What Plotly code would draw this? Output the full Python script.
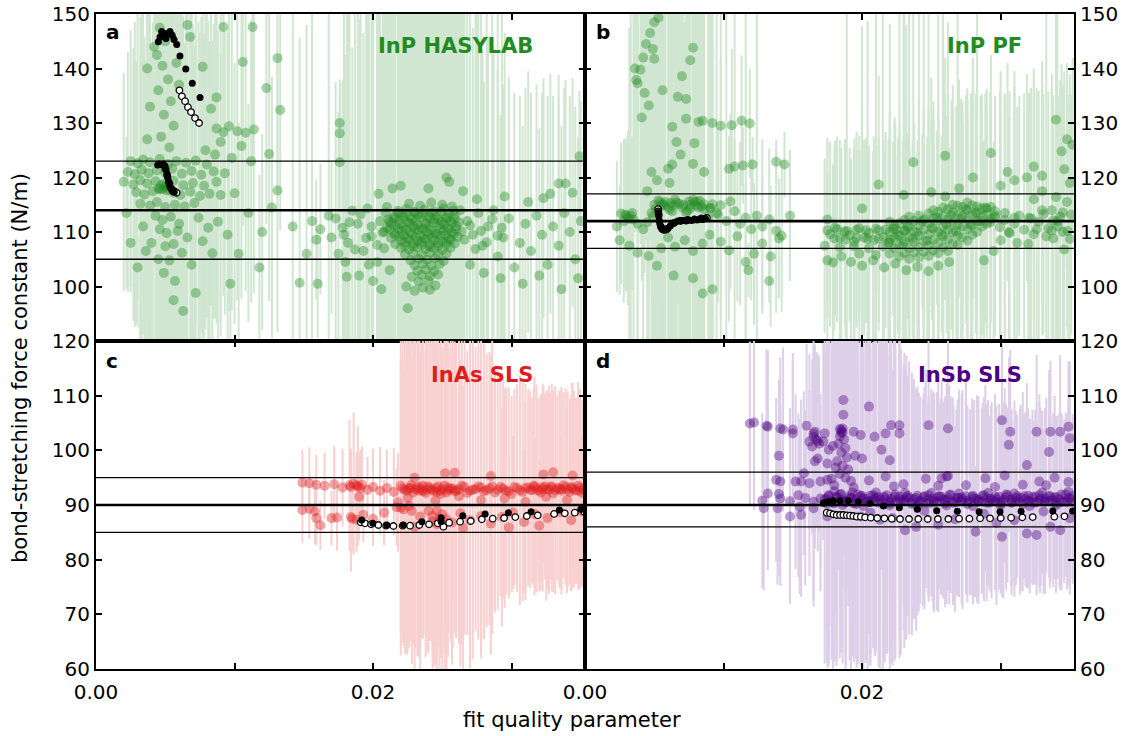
import plotly.graph_objects as go

# ---------------------------------------------------------------------------
# Individual fits: fit quality (in units of 1e-3), bond-stretching force
# constant k (N/m) and the half-width of its uncertainty (N/m).
# ---------------------------------------------------------------------------

# (a) InP, HASYLAB
a_q = [
    2.5, 3.0, 3.4, 3.9, 4.6, 5.2, 5.8, 6.5, 7.2, 8.0,
    2.3, 2.8, 3.3, 3.8, 4.4, 5.0, 5.5, 6.2, 6.9, 7.6, 8.5, 9.3,
    2.0, 2.7, 3.2, 3.7, 4.3, 4.9, 5.6, 6.3, 7.0, 7.8, 8.7,
    2.9, 3.5, 4.1, 4.6, 5.1, 5.6, 6.1, 6.8, 7.5, 8.2, 9.0, 10.0,
    4.5, 4.8, 5.0, 5.3, 4.7, 5.2,
    3.2, 3.9, 4.4, 5.0, 5.7, 6.4, 7.1,
    4.3, 4.8, 5.4, 6.0, 4.6, 5.1, 5.9, 6.6, 4.0, 5.0, 5.6, 6.2, 4.5, 5.3, 3.6, 6.9, 4.9, 5.7,
    7.4, 8.1, 7.7, 8.8, 9.5, 8.4,
    4.6, 5.0, 4.4, 4.8, 5.2, 4.5, 5.4, 4.9, 5.6, 4.7, 5.3, 4.2, 5.8, 3.9, 6.0, 3.7,
    3.7, 6.6, 7.7, 6.8, 9.2, 11.3, 10.6, 13.1, 12.3, 8.7,
    8.7, 9.2, 9.6, 10.2, 10.8, 11.4, 9.0, 10.5,
    8.6, 9.8, 11.2, 12.5, 7.9,
    8.3, 13.3, 13.1, 12.7, 11.0, 12.0, 10.3, 11.8, 9.7, 3.0, 2.5, 3.4, 2.2, 7.2, 5.6, 6.3,
    15.6, 16.2, 16.8, 17.0, 15.9, 14.7, 16.0, 14.2, 15.2,
    22.6, 23.4, 24.2, 25.0, 25.7,
    21.8, 22.4, 23.0, 23.7, 24.4, 25.1, 25.8, 26.3,
    21.5, 22.1, 22.7, 23.3, 24.0, 24.6, 25.3, 25.9,
    21.2, 21.9, 22.5, 23.1, 23.8, 24.4, 25.0, 25.6, 26.2,
    21.0, 21.6, 22.2, 22.9, 23.5, 24.1, 24.8, 25.4, 26.0,
    20.8, 21.5, 22.1, 22.7, 23.3, 23.9, 24.5, 25.1, 25.7, 26.4,
    21.3, 21.9, 22.5, 23.1, 23.7, 24.3, 24.9, 25.5, 26.1,
    21.6, 22.3, 22.9, 23.5, 24.1, 24.7, 25.3, 25.9,
    22.0, 22.6, 23.2, 23.8, 24.4, 25.0, 25.6,
    22.3, 22.9, 23.5, 24.1, 24.7, 25.3,
    22.7, 23.3, 23.9, 24.5, 25.1,
    23.0, 23.6, 24.2, 24.8, 23.2, 23.8, 24.4, 22.8, 23.5, 24.1, 24.7, 23.3, 24.0, 22.4, 23.6, 24.5, 23.0, 24.1,
    21.8, 22.4, 23.0, 23.6, 24.2, 24.9, 25.5,
    21.5, 22.2, 22.8, 23.4, 24.1, 24.7, 25.3, 25.9,
    21.3, 21.9, 22.6, 23.2, 23.8, 24.4, 25.1, 25.7,
    21.2, 21.8, 22.4, 23.0, 23.6, 24.2, 24.8, 25.4, 26.0,
    21.6, 22.2, 22.8, 23.4, 24.0, 24.6, 25.2, 25.8,
    22.0, 22.6, 23.2, 23.8, 24.4, 25.0, 25.6,
    22.3, 22.9, 23.5, 24.1, 24.7, 25.3,
    17.3, 17.8, 18.2, 18.5, 18.9, 19.3, 19.6, 19.9, 20.3, 20.5, 20.8, 21.0, 18.0, 19.0, 20.0, 17.5, 21.2, 20.6,
    17.6, 17.6, 17.6, 20.4, 21.4, 22.0, 24.0, 25.5, 26.5, 25.3,
    26.8, 27.2, 27.6, 27.9, 28.3, 28.7, 29.0, 29.4, 29.8, 30.2, 30.6, 31.0, 31.4, 31.8, 32.2, 32.6, 33.0, 33.4, 33.8, 34.2, 34.6, 35.0,
    27.0, 28.0, 29.2, 30.8, 32.0, 33.6, 34.8, 27.5, 29.5, 31.2, 32.8, 34.4,
    32.3, 33.4, 33.9, 34.9, 22.5,
    17.9, 18.3, 18.7, 19.1, 19.5, 19.9, 20.3, 20.7, 21.1,
    26.6, 27.0, 27.4, 27.8, 28.2, 28.6, 29.0, 29.3, 18.1, 19.7, 20.9,
]
a_k = [
    123.0, 122.6, 123.3, 122.8, 123.4, 122.5, 123.0, 122.7, 123.1, 122.4,
    121.0, 120.6, 121.4, 120.8, 121.3, 120.9, 121.6, 120.7, 121.2, 120.5, 121.1, 120.8,
    119.2, 118.7, 119.5, 118.9, 119.3, 118.8, 119.4, 118.6, 119.0, 118.5, 119.2,
    117.3, 116.9, 117.5, 117.8, 117.6, 117.2, 116.8, 117.4, 116.6, 117.0, 116.8, 117.1,
    118.0, 117.9, 118.3, 117.7, 118.6, 118.4,
    115.2, 114.8, 115.5, 114.6, 115.0, 114.7, 115.3,
    113.0, 112.2, 112.8, 111.5, 110.5, 109.8, 110.2, 109.0, 108.0, 107.4, 107.8, 106.2, 105.0, 104.8, 106.5, 104.0, 102.5, 101.0,
    112.6, 110.8, 108.3, 111.9, 109.5, 106.1,
    147.5, 145.0, 142.5, 140.5, 138.0, 136.0, 134.0, 131.5, 129.5, 127.5, 125.5, 144.0, 141.0, 133.0, 137.0, 127.0,
    140.0, 148.0, 140.3, 145.8, 147.6, 147.6, 141.2, 141.9, 136.4, 134.7,
    129.0, 128.3, 129.4, 128.5, 128.2, 128.8, 126.5, 125.8,
    124.2, 123.6, 123.0, 124.3, 125.0,
    132.6, 132.4, 117.6, 114.5, 113.5, 110.0, 106.0, 103.5, 100.5, 103.5, 108.0, 111.0, 113.5, 98.8, 97.5, 95.5,
    112.0, 110.5, 113.0, 109.0, 108.6, 100.7, 100.5, 111.0, 106.0,
    115.2, 114.8, 115.4, 115.0, 114.7,
    113.9, 114.2, 113.7, 114.1, 113.8, 114.3, 113.9, 114.0,
    112.8, 113.1, 112.7, 113.2, 112.9, 113.0, 112.6, 113.2,
    111.9, 112.2, 111.8, 112.1, 111.7, 112.3, 111.9, 112.0, 111.8,
    110.8, 111.2, 110.9, 111.1, 110.7, 111.0, 111.3, 110.8, 111.1,
    110.1, 109.8, 110.2, 109.9, 110.3, 110.0, 109.7, 110.2, 109.9, 110.1,
    108.9, 109.2, 108.8, 109.1, 108.7, 109.0, 109.3, 108.8, 109.1,
    107.8, 108.1, 107.9, 108.2, 107.7, 108.0, 108.2, 107.9,
    107.1, 106.8, 107.2, 106.9, 107.0, 106.7, 107.1,
    105.9, 106.1, 105.8, 106.2, 105.9, 106.0,
    104.8, 105.1, 104.9, 105.2, 104.7,
    103.9, 104.2, 103.8, 104.1, 102.9, 103.1, 102.8, 101.8, 102.1, 101.9, 102.2, 100.9, 101.1, 100.0, 99.8, 100.2, 99.2, 99.4,
    113.5, 113.4, 113.6, 113.3, 113.5, 113.7, 113.4,
    112.5, 112.6, 112.4, 112.7, 112.5, 112.3, 112.6, 112.4,
    111.5, 111.4, 111.6, 111.3, 111.5, 111.7, 111.4, 111.6,
    110.5, 110.6, 110.4, 110.7, 110.5, 110.3, 110.6, 110.4, 110.5,
    109.5, 109.4, 109.6, 109.3, 109.5, 109.7, 109.4, 109.6,
    108.5, 108.6, 108.4, 108.7, 108.5, 108.3, 108.6,
    107.5, 107.4, 107.6, 107.3, 107.5, 107.7,
    112.5, 110.8, 108.0, 113.9, 111.5, 106.5, 114.3, 109.2, 104.5, 112.0, 107.0, 114.6, 104.5, 102.0, 101.0, 106.0, 103.0, 99.5,
    130.0, 128.1, 122.8, 117.0, 118.0, 118.5, 118.0, 119.2, 117.5, 120.0,
    112.0, 109.5, 113.5, 107.5, 111.0, 114.0, 105.5, 109.0, 112.5, 103.5, 108.0, 111.5, 106.5, 113.0, 109.5, 104.0, 111.0, 107.5, 113.5, 110.0, 105.0, 112.0,
    104.0, 102.5, 101.5, 100.5, 102.0, 99.5, 101.5, 116.0, 116.5, 115.5, 117.0, 117.2,
    116.2, 118.9, 118.9, 123.9, 96.0,
    109.5, 111.8, 106.8, 113.2, 108.9, 111.0, 107.6, 109.9, 112.3,
    108.6, 111.2, 106.9, 110.2, 108.1, 112.4, 109.3, 110.8, 101.8, 104.0, 113.6,
]
a_err = [
    24, 30, 32, 34, 36, 35, 33, 34, 30, 28,
    22, 28, 31, 33, 35, 34, 36, 32, 30, 29, 27, 26,
    20, 25, 30, 32, 34, 33, 35, 31, 29, 28, 26,
    24, 29, 31, 33, 34, 32, 33, 31, 30, 28, 26, 24,
    30, 31, 29, 32, 30, 31,
    27, 30, 33, 31, 32, 30, 29,
    38, 40, 42, 39, 41, 43, 40, 42, 36, 44, 41, 43, 45, 46, 35, 47, 48, 50,
    36, 38, 40, 35, 37, 39,
    30, 28, 32, 35, 38, 36, 40, 42, 44, 41, 39, 33, 36, 34, 37, 32,
    30, 28, 32, 29, 26, 24, 30, 24, 25, 35,
    32, 30, 34, 31, 29, 30, 33, 28,
    30, 28, 26, 27, 33,
    36, 22, 26, 24, 20, 18, 24, 17, 16, 6, 8, 12, 14, 46, 50, 48,
    40, 12, 42, 14, 11, 45, 10, 44, 42,
    42, 45, 40, 44, 41,
    44, 40, 46, 42, 48, 41, 45, 43,
    45, 47, 41, 49, 43, 46, 42, 44,
    46, 42, 48, 44, 50, 43, 47, 45, 41,
    47, 44, 50, 46, 42, 49, 45, 43, 48,
    45, 48, 43, 51, 46, 44, 50, 47, 42, 40,
    48, 45, 52, 44, 49, 46, 51, 43, 47,
    50, 46, 53, 48, 44, 51, 47, 45,
    49, 52, 46, 54, 48, 50, 45,
    52, 48, 55, 50, 47, 53,
    54, 50, 56, 49, 52,
    55, 51, 57, 53, 56, 52, 58, 54, 57, 55, 50, 58, 56, 57, 60, 55, 58, 56,
    43, 47, 41, 45, 49, 44, 42,
    46, 43, 48, 44, 50, 45, 41, 47,
    44, 49, 42, 46, 51, 43, 48, 45,
    47, 42, 50, 44, 46, 52, 43, 48, 41,
    49, 45, 51, 43, 47, 53, 44, 46,
    50, 46, 52, 44, 48, 54, 45,
    51, 47, 53, 49, 46, 52,
    25, 27, 42, 30, 45, 40, 44, 46, 48, 43, 41, 45, 38, 47, 50, 26, 44, 46,
    8, 9, 12, 40, 42, 38, 45, 40, 36, 42,
    40, 38, 42, 36, 35, 30, 34, 28, 26, 32, 27, 25, 29, 24, 26, 31, 24, 27, 23, 25, 28, 22,
    38, 35, 30, 29, 27, 30, 26, 36, 30, 24, 22, 21,
    22, 20, 19, 12, 45,
    44, 46, 48, 43, 47, 45, 49, 46, 44,
    45, 43, 47, 44, 46, 41, 45, 42, 50, 48, 42,
]

# (b) InP, PF
b_q = [
    2.3, 2.6, 2.9, 3.1, 3.3, 3.5, 2.8, 3.8, 4.2, 4.5,
    4.8, 5.0, 5.3, 5.5, 5.8, 6.0, 6.3, 6.5, 6.8, 7.0,
    7.3, 7.5, 7.8, 8.0, 8.3, 8.6, 8.9, 9.2, 9.5, 9.8,
    10.2, 10.5, 10.8, 11.2, 11.6, 12.0, 12.4, 12.8, 13.3, 13.8,
    14.2, 14.8,
    5.4, 5.7, 6.2, 7.6, 7.9, 8.2, 9.0, 3.0, 3.2,
    5.1, 5.6, 6.1, 6.6, 7.1, 7.6, 8.1, 8.6, 9.1, 9.6, 4.9, 6.4, 7.4, 8.4, 3.4,
    2.5, 3.2, 3.8, 4.6, 5.2, 5.5, 6.0, 6.5, 7.2, 7.8,
    8.5, 9.0, 9.8, 10.4, 11.0, 11.6, 12.2, 12.8, 13.4, 14.0,
    13.3, 9.2, 7.8, 8.5, 6.4, 11.8,
    3.6, 3.7, 3.8, 4.0, 4.2, 4.4, 4.7, 5.0, 5.3, 4.3, 4.6, 4.1, 5.0, 4.9,
    5.6, 7.0, 7.6, 7.8, 7.3, 6.7, 6.3, 7.3, 8.2, 8.5,
    9.2, 9.8, 10.6, 11.3, 11.9, 6.6, 7.9, 6.9, 7.8, 6.3,
    6.0, 8.6, 10.4, 10.8, 11.4, 12.1, 13.8, 14.4, 4.8, 5.2,
    4.5, 6.1,
    17.5, 18.2, 18.9, 19.6, 20.3, 21.0, 21.7, 22.4, 23.1,
    18.0, 18.8, 19.6, 20.4, 21.2, 22.0,
    17.3, 18.4, 19.4, 20.5, 21.5,
    18.5, 19.2, 20.0, 20.8, 21.6, 22.4, 23.2, 24.0, 24.8, 25.5, 26.3, 19.8, 21.0, 17.9,
    22.0, 22.0, 22.0, 22.0, 22.7, 22.7, 22.7, 22.7,
    23.4, 23.4, 23.4, 23.4, 23.4, 24.1, 24.1, 24.1, 24.1, 24.1,
    24.8, 24.8, 24.8, 24.8, 24.8, 25.5, 25.5, 25.5, 25.5, 25.5,
    26.2, 26.2, 26.2, 26.2, 26.2, 26.9, 26.9, 26.9, 26.9, 26.9,
    27.6, 27.6, 27.6, 27.6, 27.6, 28.3, 28.3, 28.3, 28.3,
    29.0, 29.0, 29.0, 29.6, 29.6,
    22.35, 22.35, 22.35, 23.05, 23.05, 23.05, 23.05, 23.75, 23.75, 23.75, 23.75,
    24.45, 24.45, 24.45, 24.45, 25.15, 25.15, 25.15, 25.15, 25.15,
    25.85, 25.85, 25.85, 25.85, 25.85, 26.55, 26.55, 26.55, 26.55, 26.55,
    27.25, 27.25, 27.25, 27.25, 27.95, 27.95, 27.95, 27.95,
    28.65, 28.65, 28.65, 29.3, 29.3,
    30.3, 31.0, 30.6, 30.0, 31.2, 29.5, 28.8,
    32.2, 32.6, 33.0, 33.3, 33.7, 33.7, 33.8, 34.1, 34.3, 34.5, 34.8, 35.0, 32.4, 33.0, 34.0, 32.0, 34.6, 35.1,
    28.0, 27.0, 26.0, 25.0, 23.0, 21.2, 20.0, 29.3, 30.5, 31.9, 32.4, 33.0, 34.4, 34.6, 35.0, 34.8, 34.0, 35.2, 23.7, 26.0, 31.0, 30.0,
    17.5, 17.5,
    17.7, 18.05, 18.4, 18.75, 19.1, 19.45, 19.8, 20.15, 20.5, 20.85,
    21.2, 21.55, 21.9, 22.25, 22.6, 22.95, 23.3, 23.65, 24.0, 24.35,
    24.7, 25.05, 25.4, 25.75, 26.1, 26.45, 26.8, 27.15, 27.5, 27.85,
    28.2, 28.55, 28.9, 29.25, 29.6, 29.95, 30.3, 30.65, 31.0, 31.35,
    31.7, 32.05, 32.4, 32.75, 33.1, 33.45, 33.8, 34.15, 34.5, 34.85,
]
b_k = [
    111.0, 113.4, 113.2, 112.6, 113.0, 112.3, 112.0, 111.5, 110.5, 111.8,
    113.5, 115.0, 115.8, 114.8, 115.5, 114.6, 113.8, 115.9, 115.2, 114.5,
    113.6, 115.6, 115.9, 114.9, 115.7, 114.2, 112.8, 115.1, 113.5, 114.9,
    112.0, 115.6, 113.8, 111.5, 112.6, 110.5, 113.0, 111.0, 112.3, 110.2,
    109.3, 113.0,
    115.5, 114.9, 115.3, 115.0, 115.5, 114.5, 114.3, 113.0, 112.4,
    114.2, 115.2, 114.1, 115.4, 115.0, 114.3, 115.6, 115.1, 114.4, 113.2, 112.8, 114.9, 113.9, 114.7, 113.5,
    108.5, 107.5, 106.2, 105.6, 103.8, 107.0, 109.0, 107.3, 108.5, 106.5,
    107.9, 109.5, 108.2, 106.6, 109.2, 104.5, 106.0, 107.9, 105.5, 108.8,
    101.0, 99.5, 101.5, 98.7, 102.0, 103.0,
    140.0, 137.9, 137.3, 139.8, 142.0, 144.5, 146.5, 148.5, 149.3, 135.5, 133.2, 131.0, 141.8, 143.6,
    136.0, 138.6, 141.5, 143.8, 134.4, 134.8, 129.3, 130.8, 130.2, 130.4,
    130.0, 129.5, 129.6, 130.4, 129.9, 126.5, 126.3, 124.2, 122.5, 122.4,
    121.6, 121.0, 121.6, 122.0, 122.2, 122.4, 122.9, 122.4, 121.0, 119.5,
    117.5, 119.0,
    110.3, 110.5, 110.2, 110.4, 110.3, 110.6, 110.4, 110.5, 110.3,
    108.8, 108.6, 108.9, 108.7, 108.8, 108.6,
    107.5, 107.2, 107.4, 107.0, 107.3,
    105.5, 104.5, 103.8, 104.8, 103.5, 104.2, 103.0, 103.6, 102.8, 103.8, 104.5, 106.0, 105.8, 104.4,
    106.0, 108.1, 110.0, 111.9, 105.5, 107.6, 109.4, 111.6,
    105.1, 107.0, 109.1, 110.9, 112.8, 105.3, 107.2, 109.3, 111.2, 113.0,
    105.6, 107.5, 109.6, 111.6, 113.4, 106.1, 108.0, 110.0, 112.1, 113.7,
    106.5, 108.6, 110.4, 112.3, 114.2, 107.6, 109.4, 111.3, 113.1, 114.8,
    108.4, 110.5, 112.3, 114.0, 115.4, 110.0, 112.0, 113.6, 114.7,
    111.5, 113.2, 114.3, 112.7, 113.8,
    107.0, 109.0, 111.0, 106.2, 108.3, 110.2, 112.2, 106.3, 108.2, 110.1, 112.0,
    106.4, 108.3, 110.4, 112.3, 106.6, 108.6, 110.6, 112.5, 114.0,
    107.2, 109.2, 111.0, 112.9, 114.5, 107.9, 109.9, 111.8, 113.6, 115.0,
    109.0, 111.0, 112.9, 114.6, 109.5, 111.3, 113.1, 114.9,
    111.0, 112.8, 114.3, 112.4, 114.6,
    113.5, 112.6, 110.0, 108.5, 108.0, 106.5, 104.8,
    112.5, 110.5, 114.0, 109.2, 114.0, 110.3, 108.8, 112.0, 112.8, 110.0, 115.5, 108.7, 116.0, 117.5, 116.4, 107.8, 106.8, 113.2,
    120.0, 118.0, 116.5, 117.3, 116.8, 118.7, 114.3, 124.5, 121.0, 120.0, 122.0, 120.3, 124.8, 121.5, 119.0, 127.0, 130.6, 126.0, 122.8, 124.0, 119.5, 118.5,
    104.8, 112.3,
    109.6, 110.8, 108.9, 110.1, 109.4, 108.2, 110.7, 109.0, 109.8, 108.5,
    110.3, 109.1, 108.0, 110.6, 109.3, 107.8, 111.0, 108.7, 109.9, 112.0,
    108.4, 110.8, 112.6, 109.5, 111.4, 113.1, 110.2, 112.5, 114.1, 111.3,
    113.4, 112.0, 114.5, 111.8, 113.0, 110.9, 112.2, 109.8, 111.5, 113.0,
    110.4, 112.6, 109.6, 111.9, 113.3, 110.7, 112.1, 111.0, 113.6, 110.2,
]
b_err = [
    12, 13, 14, 16, 40, 38, 15, 42, 40, 41,
    44, 38, 36, 40, 39, 42, 41, 37, 40, 38,
    41, 36, 39, 40, 37, 41, 42, 38, 40, 39,
    40, 16, 42, 15, 38, 13, 40, 16, 13, 15,
    14, 12,
    38, 40, 39, 41, 37, 40, 42, 14, 13,
    40, 38, 41, 39, 42, 37, 40, 38, 41, 16, 39, 40, 38, 41, 14,
    10, 40, 42, 44, 46, 43, 41, 42, 40, 44,
    42, 40, 14, 13, 12, 14, 13, 12, 13, 11,
    4, 45, 48, 47, 46, 5,
    30, 28, 29, 32, 34, 36, 38, 40, 42, 33, 35, 30, 36, 38,
    40, 38, 36, 42, 40, 38, 35, 44, 40, 38,
    42, 12, 14, 12, 10, 40, 38, 41, 45, 42,
    39, 44, 6, 5, 7, 5, 4, 6, 20, 22,
    18, 40,
    16, 17, 40, 18, 17, 42, 18, 19, 17,
    17, 18, 16, 40, 17, 18,
    16, 17, 18, 17, 44,
    20, 19, 44, 20, 21, 20, 45, 21, 20, 46, 21, 19, 20, 18,
    18, 40, 19, 20, 19, 21, 42, 18,
    20, 18, 19, 44, 21, 19, 20, 43, 18, 21,
    20, 19, 18, 21, 45, 18, 20, 21, 19, 20,
    42, 19, 20, 18, 21, 20, 21, 19, 44, 18,
    19, 20, 22, 18, 21, 20, 19, 46, 21,
    21, 20, 22, 20, 19,
    19, 21, 20, 20, 18, 44, 21, 21, 19, 20, 18,
    18, 43, 21, 20, 20, 19, 21, 18, 20,
    19, 21, 20, 45, 18, 21, 18, 20, 19, 22,
    20, 19, 21, 18, 19, 22, 20, 21,
    20, 18, 21, 19, 20,
    22, 24, 21, 23, 25, 20, 22,
    24, 26, 23, 45, 25, 26, 24, 42, 25, 27, 23, 26, 22, 21, 40, 25, 24, 22,
    22, 20, 19, 21, 42, 20, 19, 18, 20, 19, 18, 21, 16, 18, 20, 14, 12, 16, 40, 18, 20, 21,
    16, 15,
    17, 16, 18, 17, 16, 19, 17, 18, 16, 19,
    17, 18, 19, 16, 18, 19, 17, 18, 17, 16,
    19, 17, 16, 18, 20, 21, 23, 22, 21, 24,
    22, 23, 21, 24, 22, 25, 23, 26, 24, 22,
    25, 23, 26, 24, 22, 25, 23, 24, 22, 25,
]

# (c) InAs, SLS
c_q = [
    14.9, 15.4, 15.9, 16.5, 17.2, 14.9, 15.4, 15.8, 15.9, 16.2, 17.0, 17.4,
    17.8, 18.3, 18.6, 18.9, 19.2, 19.6, 20.0, 20.5, 21.0, 21.5,
    22.0, 22.3, 22.6, 22.9, 23.2, 23.5, 23.8, 24.1, 24.4, 24.7,
    25.0, 25.3, 25.6, 26.0, 26.4, 26.8, 27.2, 27.6, 28.0, 28.4,
    28.8, 29.2, 29.6, 30.0, 30.4, 30.8, 31.2, 31.5, 31.8, 32.1,
    32.4, 32.7, 33.0, 33.3, 33.6, 33.9, 34.2, 34.5, 34.8, 35.1,
    19.0, 21.8, 22.5, 24.5, 26.2, 27.8, 29.5, 31.0, 32.5, 34.0,
    25.2, 25.9, 32.3, 33.0, 34.4, 28.5, 23.0,
    18.4, 18.8, 19.3, 20.0, 20.8, 21.7, 22.2, 22.8, 23.4, 24.0,
    24.3, 24.6, 25.0, 25.3, 25.7, 26.3, 27.0, 27.8, 28.5, 29.3,
    30.1, 30.9, 31.7, 32.6, 33.5, 34.3, 35.0, 23.0, 26.5, 29.8, 32.0,
    18.4, 18.8, 19.1, 22.7, 23.3, 23.9, 24.6, 25.4, 25.9, 23.6,
    24.9, 31.6, 32.2, 32.9, 33.6, 34.3, 34.9, 24.3, 24.8, 25.2,
    24.6, 18.5, 22.0, 22.6,
    22.15, 22.45, 22.75, 23.05, 23.35, 23.65, 23.95, 24.25, 24.55, 24.85,
    25.15, 25.45, 25.75, 26.2, 26.6, 27.0, 27.4, 27.8, 28.2, 28.6,
    29.0, 29.4, 29.8, 30.2, 30.6, 31.0, 31.35, 31.65, 31.95, 32.25,
    32.55, 32.85, 33.15, 33.45, 33.75, 34.05, 34.35, 34.65, 34.95, 35.2,
]
c_k = [
    94.1, 94.0, 93.7, 93.5, 93.8, 89.1, 89.3, 88.8, 87.6, 86.3, 87.6, 87.7,
    93.2, 93.6, 93.9, 93.4, 93.7, 92.8, 93.3, 92.6, 93.1, 92.4,
    93.5, 92.8, 93.0, 92.3, 93.3, 92.7, 92.2, 93.1, 92.5, 93.4,
    92.9, 92.3, 93.0, 92.6, 93.5, 92.2, 92.8, 93.4, 92.5, 93.0,
    92.3, 93.3, 92.6, 92.0, 93.1, 92.4, 93.2, 92.7, 93.0, 92.3,
    93.4, 92.8, 92.1, 93.1, 92.6, 93.3, 92.4, 92.9, 93.5, 92.2,
    91.5, 90.5, 91.3, 90.8, 91.6, 90.9, 91.2, 90.6, 91.5, 90.9,
    95.8, 95.9, 95.6, 96.0, 95.4, 95.3, 95.0,
    87.8, 87.3, 88.2, 87.5, 88.6, 89.6, 89.2, 88.9, 87.9, 88.9,
    87.0, 86.5, 88.3, 87.4, 86.8, 88.5, 87.2, 88.0, 86.6, 87.8,
    88.6, 86.9, 88.3, 87.6, 88.7, 87.2, 88.9, 86.0, 85.8, 85.9, 86.2,
    93.3, 93.6, 93.1, 93.1, 92.6, 92.9, 92.4, 93.2, 92.5, 93.5,
    92.0, 93.4, 92.9, 93.2, 92.9, 93.1, 92.6, 88.0, 87.5, 86.8,
    89.0, 87.5, 89.5, 89.8,
    93.0, 92.6, 93.6, 92.9, 93.2, 92.5, 93.4, 92.8, 93.1, 92.6,
    93.5, 92.7, 93.0, 92.9, 93.3, 92.6, 92.9, 93.2, 92.7, 93.4,
    92.8, 93.0, 92.5, 93.3, 92.7, 93.1, 92.8, 93.5, 92.6, 93.2,
    92.9, 93.4, 92.7, 93.0, 93.6, 92.8, 93.3, 92.6, 93.2, 92.9,
]
c_err = [
    6, 6.5, 5.5, 6, 7, 6, 5.5, 6, 5, 4.5, 5, 6,
    7, 12, 13, 11, 7, 6, 7, 8, 7, 8,
    27, 30, 29, 28, 31, 27, 30, 28, 32, 29,
    26, 30, 28, 27, 29, 26, 31, 28, 27, 25,
    22, 20, 19, 18, 19, 20, 18, 17, 19, 18,
    17, 19, 18, 17, 19, 18, 17, 18, 19, 17,
    8, 9, 28, 30, 27, 29, 20, 18, 19, 17,
    25, 24, 16, 15, 17, 22, 26,
    10, 6, 5, 5, 6, 7, 25, 28, 30, 26,
    28, 27, 29, 31, 26, 28, 27, 25, 24, 20,
    14, 13, 14, 13, 14, 13, 14, 27, 26, 13, 12,
    7, 6, 7, 28, 30, 27, 29, 31, 26, 28,
    30, 18, 17, 19, 18, 17, 18, 26, 28, 27,
    29, 6, 27, 25,
    28, 30, 27, 29, 31, 26, 30, 28, 29, 27,
    31, 26, 29, 28, 27, 30, 26, 28, 25, 27,
    22, 20, 19, 18, 21, 19, 18, 20, 17, 19,
    18, 17, 19, 18, 17, 18, 19, 17, 18, 17,
]

# (d) InSb, SLS
d_q = [
    11.9, 12.2, 13.1, 13.2, 14.1, 14.3, 15.0, 15.0, 16.0, 16.2,
    16.5, 16.8, 17.3, 16.5, 16.4, 17.6, 16.8, 16.6, 17.5, 14.0,
    13.8, 14.1, 15.2, 15.6, 16.2, 17.0, 17.5, 15.8, 13.2, 14.0,
    14.1, 14.8, 15.4, 15.9, 16.5, 17.0, 12.8, 12.9, 13.9, 14.8,
    15.6, 15.5, 16.5, 17.5, 16.6, 16.7, 16.9,
    17.3, 17.6, 17.9, 18.2, 18.5, 18.8, 19.1, 19.4, 19.7, 20.0,
    20.3, 20.6, 20.9, 21.2, 21.5, 21.8, 22.1, 22.4, 22.7, 23.0,
    23.3, 23.6, 23.9, 24.2, 24.5, 24.8, 25.1, 25.4, 25.7, 26.0,
    26.3, 26.6, 26.9, 27.2, 27.5, 27.8, 28.1, 28.4, 28.7, 29.0,
    29.3, 29.6, 29.9, 30.2, 30.5, 30.8, 31.1, 31.4, 31.7, 32.0,
    32.3, 32.6, 32.9, 33.2, 33.5, 33.8, 34.1, 34.4, 34.7, 35.0,
    35.2,
    17.5, 18.0, 18.6, 19.3, 20.1, 21.0, 22.0, 23.1, 24.0, 25.0,
    26.1, 27.0, 28.0, 29.1, 30.0, 31.0, 32.1, 33.0, 34.0, 34.9,
    18.5, 18.6, 18.4, 18.7, 18.3, 18.8, 18.5, 18.9, 18.2, 18.6,
    19.0, 18.4, 18.8, 19.2, 18.0, 19.4, 17.8, 19.5, 17.9, 18.1,
    18.4, 18.6, 18.5,
    20.5, 21.7, 23.0, 24.6, 26.2, 27.5, 28.9, 30.3, 31.6, 32.8,
    33.9, 34.9, 22.3, 25.5, 29.6, 33.3, 25.75, 26.1,
    18.65, 18.65, 20.5, 19.4, 20.9, 21.7, 22.1, 22.7, 22.7, 24.8,
    26.2, 30.1, 30.7, 30.6, 31.9, 32.6, 33.5, 33.6, 34.3, 34.9,
    35.0, 21.4, 22.0, 20.0, 17.2, 19.9,
    23.1, 23.9, 28.2, 30.1, 31.9, 32.6, 33.6, 34.3, 21.3, 19.9,
    20.6, 22.2, 24.5, 26.7, 28.8, 31.0, 33.1, 35.0, 25.5, 29.7,
    17.45, 17.8, 18.15, 18.5, 18.85, 19.2, 19.55, 19.9, 20.25, 20.6,
    20.95, 21.3, 21.65, 22.0, 22.35, 22.7, 23.05, 23.4, 23.75, 24.1,
    24.45, 24.8, 25.15, 25.5, 25.85, 26.2, 26.55, 26.9, 27.25, 27.6,
    27.95, 28.3, 28.65, 29.0, 29.35, 29.7, 30.05, 30.4, 30.75, 31.1,
    31.45, 31.8, 32.15, 32.5, 32.85, 33.2, 33.55, 33.9, 34.25, 34.6,
    34.95,
    17.6, 18.0, 18.4, 18.8, 19.2, 19.6, 20.0, 20.4, 20.8, 21.2,
    21.6, 22.0, 22.4, 22.8, 23.2, 23.6, 24.0, 24.4, 24.8, 25.2,
    25.6, 26.0, 26.4, 26.8, 27.2, 27.6, 28.0, 28.4, 28.8, 29.2,
    29.6, 30.0, 30.4, 30.8, 31.2, 31.6, 32.0, 32.4, 32.8, 33.2,
    33.6, 34.0, 34.4, 34.8, 35.2,
]
d_k = [
    104.9, 105.1, 104.5, 104.3, 104.0, 103.8, 103.8, 103.1, 104.5, 101.6,
    103.1, 101.7, 103.1, 102.5, 100.7, 100.1, 98.5, 98.0, 97.6, 99.0,
    94.6, 94.3, 94.3, 94.3, 94.0, 94.3, 94.6, 95.8, 92.1, 92.0,
    91.2, 90.7, 91.8, 91.3, 90.6, 91.2, 90.8, 89.4, 89.4, 87.9,
    88.2, 89.7, 89.4, 87.9, 103.4, 102.0, 101.2,
    91.0, 91.8, 90.5, 91.4, 92.0, 90.8, 91.6, 90.3, 91.9, 91.2,
    90.6, 91.7, 90.9, 91.4, 90.4, 91.8, 91.1, 90.6, 91.5, 90.9,
    91.7, 90.5, 91.3, 90.8, 91.6, 90.3, 91.2, 90.7, 91.5, 90.9,
    91.8, 90.4, 91.3, 90.8, 91.6, 90.5, 91.2, 90.9, 91.7, 90.4,
    91.1, 90.7, 91.5, 90.9, 91.8, 90.4, 91.3, 90.6, 91.6, 90.8,
    91.4, 90.5, 91.2, 90.7, 91.7, 90.9, 91.4, 90.5, 91.9, 91.1,
    90.6,
    90.2, 92.5, 90.0, 92.3, 89.8, 92.3, 89.9, 92.2, 89.8, 92.2,
    89.9, 92.1, 89.8, 92.2, 89.9, 92.1, 89.8, 92.3, 89.9, 92.4,
    103.7, 103.3, 102.6, 102.0, 101.2, 100.4, 99.6, 98.7, 98.0, 97.2,
    96.5, 95.7, 95.0, 94.4, 93.6, 93.2, 94.8, 99.0, 100.8, 96.8,
    103.9, 104.0, 103.2,
    94.5, 95.2, 93.8, 94.8, 95.3, 93.6, 94.9, 95.4, 93.7, 94.3,
    95.0, 94.2, 93.4, 93.5, 93.3, 93.6, 94.9, 95.2,
    109.2, 106.5, 108.0, 103.4, 102.5, 103.1, 104.6, 104.6, 103.1, 104.6,
    104.0, 105.5, 103.4, 101.0, 97.3, 103.4, 99.7, 103.4, 103.4, 104.3,
    102.2, 100.1, 98.2, 98.5, 101.6, 102.8,
    85.4, 86.0, 85.1, 84.2, 84.8, 84.5, 86.0, 85.4, 87.3, 87.9,
    88.6, 87.6, 88.9, 87.4, 88.4, 87.2, 88.8, 87.6, 86.4, 86.7,
    91.2, 90.7, 91.5, 91.0, 90.6, 91.3, 90.9, 91.6, 91.1, 90.7,
    91.4, 90.9, 91.2, 90.6, 91.5, 91.0, 90.8, 91.3, 91.1, 90.6,
    91.4, 91.0, 90.8, 91.5, 90.9, 91.2, 90.7, 91.3, 91.0, 90.8,
    91.5, 91.1, 90.7, 91.3, 90.9, 91.2, 90.6, 91.4, 91.0, 90.8,
    91.3, 91.1, 90.7, 91.5, 90.9, 91.2, 90.8, 91.4, 91.0, 90.7,
    91.3,
    91.6, 90.3, 91.9, 90.5, 91.3, 90.2, 91.7, 90.6, 91.8, 90.4,
    91.5, 90.3, 91.9, 90.6, 91.4, 90.2, 91.7, 90.5, 91.8, 90.4,
    91.6, 90.3, 91.9, 90.5, 91.4, 90.2, 91.7, 90.6, 91.8, 90.4,
    91.5, 90.3, 91.9, 90.5, 91.6, 90.2, 91.7, 90.4, 91.8, 90.6,
    91.5, 90.3, 91.9, 90.5, 91.6,
]
d_err = [
    15, 16, 14, 14, 13, 15, 14, 13, 15, 16,
    17, 16, 15, 17, 16, 18, 17, 16, 18, 14,
    15, 14, 16, 15, 17, 16, 18, 15, 14, 15,
    16, 17, 15, 16, 18, 17, 16, 15, 14, 16,
    15, 16, 18, 17, 16, 16, 16,
    30, 29, 31, 30, 28, 32, 30, 29, 31, 30,
    29, 31, 28, 30, 32, 29, 30, 28, 26, 24,
    22, 21, 20, 19, 20, 18, 19, 20, 18, 19,
    20, 18, 17, 19, 18, 17, 18, 19, 17, 18,
    17, 16, 17, 18, 16, 15, 16, 17, 15, 16,
    16, 15, 16, 17, 15, 16, 15, 16, 15, 16,
    15,
    30, 31, 29, 30, 31, 29, 30, 23, 20, 19,
    18, 19, 18, 17, 16, 17, 16, 15, 16, 15,
    20, 22, 24, 21, 23, 25, 22, 24, 26, 23,
    25, 27, 24, 26, 28, 25, 27, 23, 24, 26,
    21, 20, 22,
    28, 27, 22, 20, 18, 19, 17, 16, 17, 16,
    15, 16, 28, 19, 17, 16, 18, 17,
    14, 16, 18, 20, 22, 21, 19, 18, 20, 17,
    16, 14, 15, 16, 15, 14, 15, 13, 14, 12,
    14, 22, 24, 25, 18, 23,
    20, 19, 12, 11, 10, 11, 10, 11, 25, 26,
    28, 27, 18, 17, 16, 14, 15, 14, 16, 15,
    30, 29, 31, 28, 30, 32, 29, 31, 30, 28,
    29, 31, 30, 28, 30, 29, 27, 25, 22, 20,
    19, 18, 20, 19, 18, 17, 19, 18, 20, 17,
    18, 19, 17, 16, 18, 17, 16, 17, 16, 15,
    17, 16, 15, 16, 17, 15, 16, 15, 16, 15,
    16,
    31, 29, 30, 28, 32, 30, 29, 31, 28, 30,
    29, 27, 30, 28, 26, 24, 20, 19, 18, 20,
    17, 19, 18, 17, 19, 18, 16, 17, 18, 16,
    17, 15, 16, 17, 15, 16, 16, 15, 17, 16,
    15, 16, 15, 16, 15,
]

# Highlighted fit sequences (filled and open symbols)
a_fill_q = [4.50, 4.62, 4.74, 4.91, 5.05, 5.18, 5.34, 5.50, 5.63, 5.83, 6.06, 6.48, 6.95, 7.51,
            4.45, 4.55, 4.70, 4.85, 4.98, 5.05, 5.12, 5.18, 5.24, 5.30, 5.36, 5.45, 5.55, 5.65]
a_fill_k = [144.9, 145.8, 146.8, 146.4, 145.5, 146.4, 146.8, 146.1, 145.3, 144.4, 142.3, 139.9, 137.3, 134.7,
            122.3, 122.5, 122.4, 122.5, 122.1, 121.4, 120.7, 120.0, 119.3, 118.7, 118.2, 117.8, 117.5, 117.3]
a_open_q = [6.02, 6.20, 6.43, 6.64, 6.86, 7.15, 7.44, 5.00, 5.15, 5.30, 5.50, 5.70, 5.82]
a_open_k = [136.0, 134.9, 134.0, 132.9, 132.0, 130.9, 130.0, 121.6, 120.3, 118.9, 117.8, 117.4, 117.2]

b_fill_q = [5.30, 5.33, 5.36, 5.40, 5.46, 5.54, 5.62, 5.72, 5.85, 6.00, 6.15, 6.30,
            6.50, 6.70, 6.90, 7.10, 7.30, 7.50, 7.70, 7.90, 8.10, 8.30, 8.50, 8.70]
b_fill_k = [113.6, 112.9, 112.1, 111.5, 111.0, 110.6, 110.4, 110.3, 110.4, 110.7, 111.1, 111.5,
            111.8, 112.0, 112.1, 112.1, 112.0, 112.2, 112.1, 112.3, 112.2, 112.4, 112.3, 112.5]
b_open_q = [5.28, 5.30, 5.32, 5.50, 5.90, 6.40, 6.90, 7.40, 7.90, 8.40, 8.80]
b_open_k = [114.2, 113.8, 113.2, 110.9, 110.5, 111.6, 112.0, 112.2, 112.3, 112.5, 112.6]

c_fill_q = [19.18, 19.98, 20.99, 22.19, 23.52, 24.91, 24.91, 26.48, 28.09, 29.77, 31.41, 33.45, 35.0]
c_fill_k = [87.26, 86.65, 86.34, 86.34, 86.95, 87.68, 86.95, 88.05, 88.36, 88.60, 88.78, 89.10, 89.20]
c_open_q = [19.11, 19.42, 19.86, 20.38, 20.94, 21.47, 22.14, 22.67, 23.34, 24.04, 24.67, 25.08, 25.49,
            26.28, 27.05, 27.85, 28.64, 29.46, 30.27, 31.10, 31.89, 33.07, 33.84, 34.56, 35.25]
c_open_k = [86.84, 86.65, 86.47, 86.34, 86.21, 86.16, 86.21, 86.21, 86.34, 86.47, 86.65, 86.03, 86.77,
            86.95, 87.07, 87.39, 87.50, 87.62, 87.80, 87.99, 88.12, 88.36, 88.48, 88.60, 88.72]

d_fill_q = [17.20, 17.33, 17.40, 17.50, 17.57, 17.93, 18.41, 19.01, 19.73, 20.58, 21.54,
            22.69, 23.99, 25.39, 26.88, 28.45, 29.96, 31.48, 33.77, 35.20]
d_fill_k = [90.30, 90.42, 90.40, 90.50, 90.61, 90.79, 90.79, 90.79, 90.61, 90.31, 89.82,
            89.51, 89.22, 88.96, 88.85, 88.78, 88.78, 88.85, 88.90, 88.90]
d_open_q = [17.45, 17.69, 17.93, 18.17, 18.41, 18.65, 18.90, 19.13, 19.37, 19.62, 19.91, 20.22,
            20.63, 21.10, 21.61, 22.14, 22.74, 23.39, 24.06, 24.74, 25.47, 26.23, 27.00, 27.75,
            28.52, 29.24, 30.01, 30.76, 31.57, 32.32, 33.88, 34.61]
d_open_k = [88.59, 88.48, 88.30, 88.17, 88.17, 88.17, 88.12, 88.05, 87.99, 87.86, 87.86, 87.75,
            87.68, 87.62, 87.57, 87.50, 87.44, 87.44, 87.44, 87.44, 87.44, 87.44, 87.50, 87.50,
            87.57, 87.57, 87.62, 87.68, 87.75, 87.80, 87.86, 87.93]

# Reference force constants: central value and bounds (N/m)
ref_mid = [114, 112, 90, 90]
ref_low = [105, 107, 85, 86]
ref_high = [123, 117, 95, 96]

panel_letters = ["a", "b", "c", "d"]
panel_titles = ["InP HASYLAB", "InP PF", "InAs SLS", "InSb SLS"]

top_ticks = [100, 110, 120, 130, 140, 150]
bottom_ticks = [60, 70, 80, 90, 100, 110, 120]
q_ticks = [0.0, 0.01, 0.02, 0.03]
q_labels = ["0.00", "", "0.02", ""]

# ---------------------------------------------------------------------------
GREEN = "34,139,34"
RED = "222,30,30"
PURPLE = "75,0,130"
BAR_GREEN = "rgb(209,230,209)"
BAR_RED = "rgb(248,208,208)"
BAR_PURPLE = "rgb(222,207,232)"
FONT = "DejaVu Sans"

W, H = 1135, 736
X_LEFT = [96 / W, 585 / W]
X_RIGHT = [585 / W, 1074 / W]
Y_TOP = [1 - 341 / H, 1 - 14 / H]
Y_BOTTOM = [1 - 669 / H, 1 - 341 / H]


def milli(vals):
    return [v * 1e-3 for v in vals]


panels = [
    (a_q, a_k, a_err, a_fill_q, a_fill_k, a_open_q, a_open_k, GREEN, BAR_GREEN, "x", "y"),
    (b_q, b_k, b_err, b_fill_q, b_fill_k, b_open_q, b_open_k, GREEN, BAR_GREEN, "x2", "y2"),
    (c_q, c_k, c_err, c_fill_q, c_fill_k, c_open_q, c_open_k, RED, BAR_RED, "x3", "y3"),
    (d_q, d_k, d_err, d_fill_q, d_fill_k, d_open_q, d_open_k, PURPLE, BAR_PURPLE, "x4", "y4"),
]

fig = go.Figure()
for q, k, err, fq, fk, oq, ok, rgb, bar, xa, ya in panels:
    fig.add_trace(go.Scatter(
        x=milli(q), y=k, mode="markers", xaxis=xa, yaxis=ya,
        marker=dict(size=10, color=f"rgba({rgb},0.4)", line=dict(width=0)),
        error_y=dict(type="data", array=err, symmetric=True,
                     color=bar, thickness=2, width=0),
        showlegend=False, hoverinfo="skip",
    ))
    fig.add_trace(go.Scatter(
        x=milli(oq), y=ok, mode="markers", xaxis=xa, yaxis=ya,
        marker=dict(size=6.5, color="white", line=dict(width=1.3, color="black")),
        showlegend=False, hoverinfo="skip",
    ))
    fig.add_trace(go.Scatter(
        x=milli(fq), y=fk, mode="markers", xaxis=xa, yaxis=ya,
        marker=dict(size=7, color="black", line=dict(width=0)),
        showlegend=False, hoverinfo="skip",
    ))

# reference lines
axis_pairs = [("x", "y"), ("x2", "y2"), ("x3", "y3"), ("x4", "y4")]
for (xa, ya), mid, lo, hi in zip(axis_pairs, ref_mid, ref_low, ref_high):
    for val, lw in ((lo, 1.3), (hi, 1.3), (mid, 2.6)):
        fig.add_shape(type="line", xref=f"{xa} domain", yref=ya,
                      x0=0, x1=1, y0=val, y1=val,
                      line=dict(color="black", width=lw), layer="above")

common = dict(showline=True, linecolor="black", linewidth=2, mirror="ticks",
              ticks="inside", ticklen=6, tickwidth=1.5, tickcolor="black",
              showgrid=False, zeroline=False, automargin=False,
              tickfont=dict(family=FONT, size=20, color="black"))

xcommon = dict(common, range=[0, 0.0353], tickvals=q_ticks, ticktext=q_labels,
               ticklabelstandoff=4)

fig.update_layout(
    width=W, height=H,
    margin=dict(l=0, r=0, t=0, b=0),
    paper_bgcolor="white", plot_bgcolor="white",
    showlegend=False,
    font=dict(family=FONT, color="black"),
    xaxis=dict(xcommon, domain=X_LEFT, anchor="y", showticklabels=False),
    yaxis=dict(common, domain=Y_TOP, anchor="x", range=[90, 150], tickvals=top_ticks, side="left"),
    xaxis2=dict(xcommon, domain=X_RIGHT, anchor="y2", showticklabels=False),
    yaxis2=dict(common, domain=Y_TOP, anchor="x2", range=[90, 150], tickvals=top_ticks, side="right"),
    xaxis3=dict(xcommon, domain=X_LEFT, anchor="y3"),
    yaxis3=dict(common, domain=Y_BOTTOM, anchor="x3", range=[60, 120], tickvals=bottom_ticks, side="left"),
    xaxis4=dict(xcommon, domain=X_RIGHT, anchor="y4"),
    yaxis4=dict(common, domain=Y_BOTTOM, anchor="x4", range=[60, 120], tickvals=bottom_ticks, side="right"),
)

# panel letters and dataset names
letter_pos = [(104, 32), (594, 32), (104, 361), (594, 361)]
title_pos = [(535, 46), (1024, 46), (535, 375), (1024, 375)]
title_rgb = [GREEN, GREEN, RED, PURPLE]
for letter, (lx, ly), name, (tx, ty), rgb in zip(panel_letters, letter_pos, panel_titles, title_pos, title_rgb):
    fig.add_annotation(text=f"<b>{letter}</b>", xref="paper", yref="paper",
                       x=lx / W, y=1 - ly / H, xanchor="left", yanchor="middle",
                       showarrow=False, font=dict(family=FONT, size=20, color="black"))
    fig.add_annotation(text=f"<b>{name}</b>", xref="paper", yref="paper",
                       x=tx / W, y=1 - ty / H, xanchor="right", yanchor="middle",
                       showarrow=False, font=dict(family=FONT, size=21, color=f"rgb({rgb})"))

fig.add_annotation(text="bond-stretching force constant (N/m)", xref="paper", yref="paper",
                   x=20 / W, y=1 - 368 / H, xanchor="center", yanchor="middle", textangle=-90,
                   showarrow=False, font=dict(family=FONT, size=21, color="black"))
fig.add_annotation(text="fit quality parameter", xref="paper", yref="paper",
                   x=572 / W, y=1 - 720 / H, xanchor="center", yanchor="middle",
                   showarrow=False, font=dict(family=FONT, size=21, color="black"))

fig.write_html("out.html")
